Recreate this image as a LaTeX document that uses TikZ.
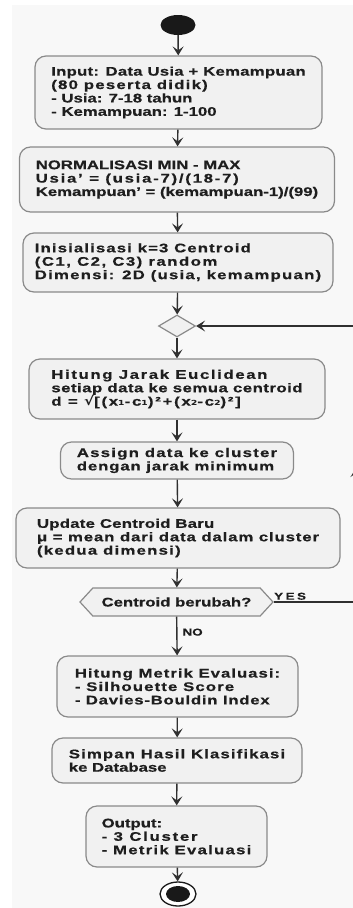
\documentclass[tikz,border=0pt]{standalone}
\usepackage{fontspec}
\setmainfont{Liberation Sans}[FakeStretch=1.34, BoldFeatures={FakeBold=0.6}]
\newfontfamily\symfont{DejaVu Sans}[FakeStretch=1.2]
\usetikzlibrary{shapes.geometric,shapes.symbols,arrows.meta}
\definecolor{bgcol}{HTML}{F8F8F8}
\definecolor{boxfill}{HTML}{F1F1F1}
\definecolor{boxline}{HTML}{8A8A8A}
\definecolor{txtcol}{HTML}{1E1E1E}
\definecolor{arrcol}{HTML}{303030}
% tracked line of text
\newcommand{\trk}[2]{{\addfontfeature{LetterSpace=#1}#2}}
\tikzset{
  actbox/.style={draw=boxline, fill=boxfill, line width=1.2pt, rounded corners=11pt,
    align=left, text=txtcol, inner sep=0pt,
    font=\bfseries\fontsize{12.5}{13.4}\selectfont},
  startdot/.style={ellipse, fill=black!90, minimum width=35pt, minimum height=20pt, inner sep=0pt},
  enddot/.style={ellipse, draw=black!90, line width=1.3pt, fill=white, minimum width=36pt, minimum height=24pt, inner sep=0pt},
  merge/.style={diamond, draw=boxline, fill=boxfill, line width=1.2pt, minimum width=37pt, minimum height=22pt, inner sep=0pt},
  check/.style={signal, signal to=east and west, signal pointer angle=95, draw=boxline, fill=boxfill,
    line width=1.2pt, text=txtcol, inner sep=0pt, font=\bfseries\fontsize{12.5}{13.4}\selectfont},
  flow/.style={draw=arrcol, line width=1.4pt, -{Stealth[length=9pt,width=11pt,inset=4pt]}},
  guard/.style={text=txtcol, font=\bfseries\fontsize{10}{11}\selectfont, inner sep=0pt},
}
\begin{document}
\begin{tikzpicture}[x=1pt,y=-1pt]
\clip (0,0) rectangle (353,908);
\fill[bgcol] (12,5) rectangle (353,908);
% activity nodes
\node[startdot] (start) at (178,25) {};
\node[actbox, minimum width=287pt, minimum height=73pt] (input) at (178.5,92.5)
  {\trk{2}{Input: Data Usia + Kemampuan}\\\trk{10}{(80 peserta didik)}\\- Usia: 7-18 tahun\\- Kemampuan: 1-100};
\node[actbox, minimum width=315pt, minimum height=65pt] (norm) at (177,179.5)
  {NORMALISASI MIN - MAX\\\trk{14}{Usia' = (usia-7)/(18-7)}\\Kemampuan' = (kemampuan-1)/(99)};
\node[actbox, minimum width=310pt, minimum height=59pt] (init) at (178,262.5)
  {\trk{9}{Inisialisasi k=3 Centroid}\\\trk{12}{(C1, C2, C3) random}\\\trk{10}{Dimensi: 2D (usia, kemampuan)}};
\node[merge] (loop) at (177,326) {};
\node[actbox, minimum width=296pt, minimum height=60pt] (jarak) at (177,389)
  {\trk{13}{Hitung Jarak Euclidean}\\\trk{4}{setiap data ke semua centroid}\\\trk{14}{d = {\symfont √}[(x{\symfont ₁}-c{\symfont ₁})²+(x{\symfont ₂}-c{\symfont ₂})²]}};
\node[actbox, minimum width=233pt, minimum height=37pt] (assign) at (177,460.5)
  {\trk{10}{Assign data ke cluster}\\\trk{7}{dengan jarak minimum}};
\node[actbox, minimum width=324pt, minimum height=60pt] (update) at (178,538)
  {\trk{2}{Update Centroid Baru}\\\trk{7}{μ = mean dari data dalam cluster}\\\trk{10}{(kedua dimensi)}};
\node[check, minimum width=193pt, minimum height=28pt] (cek) at (176.5,602) {Centroid berubah?};
\node[actbox, minimum width=241pt, minimum height=61pt] (metrik) at (177.5,686.5)
  {\trk{8}{Hitung Metrik Evaluasi:}\\\trk{9}{- Silhouette Score}\\\trk{6}{- Davies-Bouldin Index}};
\node[actbox, minimum width=250pt, minimum height=45pt] (simpan) at (177,760.5)
  {\trk{9}{Simpan Hasil Klasifikasi}\\ke Database};
\node[actbox, minimum width=181pt, minimum height=61pt] (output) at (176.5,836.5)
  {Output:\\\trk{14}{- 3 Cluster}\\\trk{10}{- Metrik Evaluasi}};
\node[enddot] (end) at (178,894) {};
\fill[black!90] (end) ellipse (12pt and 8pt);
% connectors
\draw[flow] (start) -- (input);
\draw[flow] (input) -- (norm);
\draw[flow] (norm) -- (init);
\draw[flow] (init) -- (loop);
\draw[flow] (loop) -- (jarak);
\draw[flow] (jarak) -- (assign);
\draw[flow] (assign) -- (update);
\draw[flow] (update) -- (cek);
\draw[flow] (cek) -- node[guard, right=5pt, pos=0.4] (no) {NO} (metrik);
\draw[flow] (metrik) -- (simpan);
\draw[flow] (simpan) -- (output);
\draw[flow] (output) -- (end);
% back edge (leaves the frame on the right)
\coordinate (backB) at (356,602);
\coordinate (backM) at (356,468);
\coordinate (backT) at (356,326);
\draw[flow] (cek.east) -- (backB) -- (backM);
\draw[flow] (backM) -- (backT) -- (loop.east);
\node[guard, anchor=south west] (yes) at (274,600) {\addfontfeature{LetterSpace=25}YES};
\end{tikzpicture}
\end{document}
